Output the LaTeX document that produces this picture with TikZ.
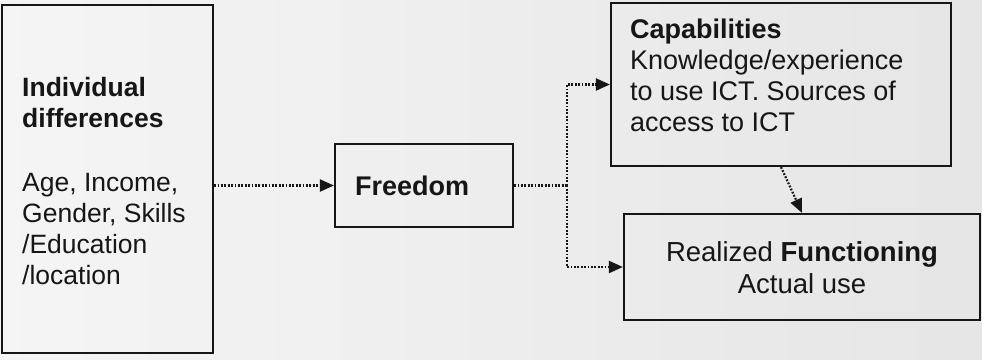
\documentclass[tikz,border=0pt]{standalone}
\usepackage{fontspec}
\setmainfont{Liberation Sans}
\usetikzlibrary{arrows.meta}
\definecolor{ink}{HTML}{161616}
\tikzset{
  box/.style={draw=ink, line width=2.2pt, inner sep=0pt, rectangle},
  txt/.style={font=\fontsize{27}{31}\selectfont, text=ink, inner sep=0pt, align=left},
  plain/.style={draw=ink, line width=2.2pt, dash pattern=on 1.8pt off 1.6pt},
  flow/.style={plain, -{Triangle[length=14pt,width=12pt]}}
}
\begin{document}
\begin{tikzpicture}[x=1pt,y=-1pt]
  % paper background
  \shade[left color=white!96!black, right color=black!10] (0,0) rectangle (982,359);
  \useasboundingbox (0,0) rectangle (982,359);

  % boxes
  \node[box, minimum width=211pt, minimum height=348pt] (ind) at (107.5,179) {};
  \node[box, minimum width=178pt, minimum height=83pt] (free) at (424,185.5) {};
  \node[box, minimum width=340pt, minimum height=163pt] (cap) at (781,84.5) {};
  \node[box, minimum width=356pt, minimum height=106pt] (real) at (802,267) {};

  % texts
  \node[txt, anchor=west, font=\fontsize{26.5}{31}\selectfont] (indtxt) at (22,181)
    {\textbf{Individual}\\\textbf{differences}\\[33pt]Age, Income,\\Gender, Skills\\/Education\\/location};
  \node[txt, anchor=west] (freetxt) at (355,186) {\textbf{Freedom}};
  \node[txt, anchor=north west] (captxt) at (630,19)
    {\textbf{Capabilities}\\Knowledge/experience\\to use ICT. Sources of\\access to ICT};
  \node[txt, align=center, font=\fontsize{27.5}{32}\selectfont] (realtxt) at (802,268)
    {Realized \textbf{Functioning}\\Actual use};

  % connectors
  \coordinate (fork) at (567,185.5);
  \draw[flow] (free.west -| ind.east) -- (free.west);
  \draw[plain] (free.east) -- (fork);
  \draw[flow] (fork) |- (cap.west);
  \draw[flow] (fork) |- (real.west);
  \draw[flow] (cap.south) -- (real.north);
\end{tikzpicture}
\end{document}
